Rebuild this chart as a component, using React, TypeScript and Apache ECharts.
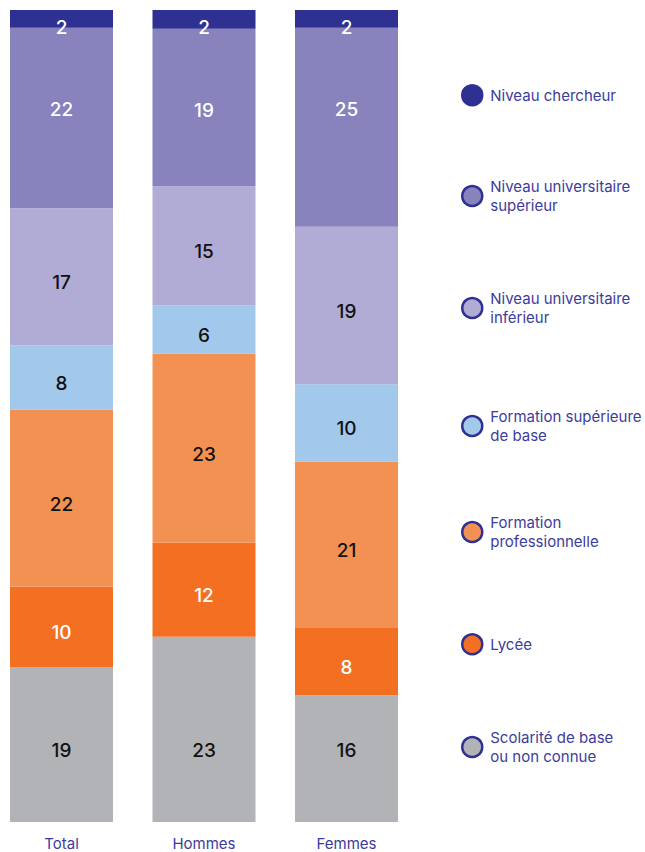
import React, { useEffect, useRef } from "react";
import * as echarts from "echarts";

// Categories (bars)
const categories = ["Total", "Hommes", "Femmes"];

// Series names, bottom of the stack to top
const seriesNames = [
  "Scolarité de base ou non connue",
  "Lycée",
  "Formation professionnelle",
  "Formation supérieure de base",
  "Niveau universitaire inférieur",
  "Niveau universitaire supérieur",
  "Niveau chercheur",
];

// Legend labels (line-broken as in the picture)
const legendLabels = [
  "Scolarité de base\nou non connue",
  "Lycée",
  "Formation\nprofessionnelle",
  "Formation supérieure\nde base",
  "Niveau universitaire\ninférieur",
  "Niveau universitaire\nsupérieur",
  "Niveau chercheur",
];

// Shares (%), per series: [Total, Hommes, Femmes]
const scolarite = [19.1, 22.8, 15.6];
const lycee = [9.9, 11.6, 8.3];
const formationPro = [21.8, 23.3, 20.5];
const formationSup = [7.9, 5.9, 9.5];
const univInf = [16.9, 14.7, 19.4];
const univSup = [22.2, 19.4, 24.5];
const chercheur = [2.2, 2.3, 2.2];

const seriesValues = [scolarite, lycee, formationPro, formationSup, univInf, univSup, chercheur];

const colors = ["#b1b3b6", "#f37022", "#f39152", "#a2c8eb", "#b1acd6", "#8882bd", "#2e3192"];
const labelColors = ["#111111", "#ffffff", "#111111", "#111111", "#111111", "#ffffff", "#ffffff"];
const legendTops = [728, 633, 513, 407, 289, 177, 84];

const TEXT_BLUE = "#3c3c9c";
const FONT = "Inter, 'Noto Sans', sans-serif";

export default function App() {
  const ref = useRef<HTMLDivElement>(null);

  useEffect(() => {
    if (!ref.current) return;
    const chart = echarts.init(ref.current, undefined, { renderer: "svg" });

    const labelPos = (i: number): any => {
      if (i === 0) return { position: "insideBottom", distance: 62 };
      if (i === 5) return { position: "insideTop", distance: 72 };
      if (i === 6) return { position: "insideTop", distance: 8 };
      return { position: "inside", offset: [0, 6] };
    };

    const series = seriesNames.map((name, i) => ({
      name,
      type: "bar",
      stack: "total",
      barWidth: 103,
      data: seriesValues[i],
      itemStyle: { color: colors[i] },
      label: {
        show: true,
        ...labelPos(i),
        color: labelColors[i],
        fontSize: 19,
        fontWeight: 500,
        fontFamily: FONT,
        formatter: (p: any) => String(Math.round(p.value)),
      },
    }));

    const legend = seriesNames.map((name, i) => ({
      data: [name],
      left: 461,
      top: legendTops[i],
      padding: 0,
      orient: "vertical",
      icon: "circle",
      itemWidth: 20,
      itemHeight: 20,
      itemGap: 0,
      selectedMode: false,
      itemStyle: { borderColor: "#2e3192", borderWidth: 2.5 },
      textStyle: {
        color: TEXT_BLUE,
        fontSize: 15,
        lineHeight: 19,
        fontFamily: FONT,
        padding: [0, 0, 0, 3],
      },
      formatter: (n: string) => legendLabels[seriesNames.indexOf(n)],
    }));

    chart.setOption({
      animation: false,
      grid: { left: 61.5, right: 298.5, top: 10, bottom: 30, containLabel: false },
      xAxis: {
        type: "category",
        data: categories,
        boundaryGap: false,
        axisLine: { show: false },
        axisTick: { show: false },
        axisLabel: {
          color: TEXT_BLUE,
          fontSize: 15,
          lineHeight: 15,
          margin: 14,
          fontFamily: FONT,
        },
      },
      yAxis: { type: "value", min: 0, max: 100, show: false },
      legend,
      series,
    });

    return () => chart.dispose();
  }, []);

  return (
    <div
      ref={ref}
      style={{ position: "fixed", left: 0, top: 0, width: 645, height: 852, background: "#ffffff" }}
    />
  );
}
